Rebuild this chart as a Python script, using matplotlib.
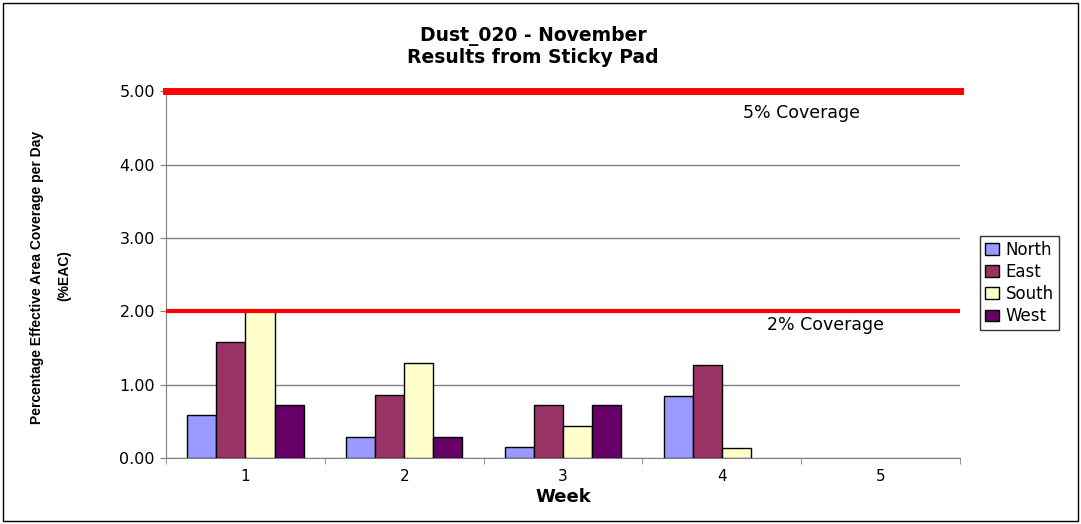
import numpy as np
import matplotlib
matplotlib.use("Agg")
import matplotlib.pyplot as plt
from matplotlib.ticker import FixedLocator, NullFormatter
from matplotlib.patches import Rectangle

weeks = ["1", "2", "3", "4", "5"]
series = ["North", "East", "South", "West"]
north = [0.59, 0.29, 0.15, 0.85, 0.0]
east = [1.58, 0.86, 0.72, 1.27, 0.0]
south = [2.0, 1.29, 0.44, 0.14, 0.0]
west = [0.72, 0.29, 0.72, 0.0, 0.0]
colors = ["#9999FF", "#993366", "#FFFFCC", "#660066"]
limits = [5.0, 2.0]
limit_labels = ["5% Coverage", "2% Coverage"]

plt.rcParams['font.family'] = ['DejaVu Sans']

fig = plt.figure(figsize=(10.81, 5.24), dpi=100)
fig.patches.append(Rectangle((0.003, 0.006), 0.994, 0.988, transform=fig.transFigure,
                             fill=False, edgecolor="black", linewidth=1.0))
ax = fig.add_axes([0.1536, 0.126, 0.7345, 0.7])

x = np.arange(len(weeks))
w = 0.183
values = [north, east, south, west]
for i, vals in enumerate(values):
    ec = ["black" if v > 0 else "none" for v in vals]
    ax.bar(x + (i - 1.5) * w, vals, w, color=colors[i], edgecolor=ec,
           linewidth=1.0, label=series[i], zorder=3)

ax.axhline(limits[0], color="#FF0000", linewidth=5, zorder=4, clip_on=False)
ax.axhline(limits[1], color="#FF0000", linewidth=3, zorder=4)
ax.text(3.5, 4.70, limit_labels[0], fontsize=12.5, ha="center", va="center")
ax.text(3.65, 1.81, limit_labels[1], fontsize=12.5, ha="center", va="center")

ax.set_xlim(-0.5, 4.5)
ax.set_ylim(0, 5)
ax.set_yticks(np.arange(0, 5.01, 1.0))
ax.set_yticklabels(["%.2f" % v for v in np.arange(0, 5.01, 1.0)], fontsize=11.5)
ax.yaxis.grid(True, color="#808080", linewidth=1.0, zorder=0)
ax.set_xticks(x)
ax.set_xticklabels(weeks, fontsize=11)
ax.xaxis.set_minor_locator(FixedLocator(np.arange(-0.5, 4.6, 1.0)))
ax.xaxis.set_minor_formatter(NullFormatter())
ax.tick_params(axis="x", which="major", length=0, pad=8)
ax.tick_params(axis="x", which="minor", length=4, color="#808080", direction="out")
ax.tick_params(axis="y", length=4, color="#808080", direction="out", pad=4)
for s in ["top", "right"]:
    ax.spines[s].set_visible(False)
for s in ["left", "bottom"]:
    ax.spines[s].set_color("#808080")

ax.set_xlabel("Week", fontsize=13, fontweight="bold", labelpad=3)
fig.text(0.034, 0.47, "Percentage Effective Area Coverage per Day", rotation=90,
         ha="center", va="center", fontsize=10, fontweight="bold",
         family=['Liberation Sans Narrow', 'Liberation Sans'])
fig.text(0.059, 0.475, "(%EAC)", rotation=90, ha="center", va="center",
         fontsize=10, fontweight="bold",
         family=['Liberation Sans Narrow', 'Liberation Sans'])

fig.text(0.493, 0.931, "Dust_020 - November", ha="center", va="center",
         fontsize=13.5, fontweight="bold")
fig.text(0.493, 0.891, "Results from Sticky Pad", ha="center", va="center",
         fontsize=13.5, fontweight="bold")

leg = fig.legend(loc="center left", bbox_to_anchor=(0.907, 0.46), fontsize=12,
                 frameon=True, fancybox=False, edgecolor="black",
                 handlelength=0.8, handleheight=0.7, handletextpad=0.4,
                 labelspacing=0.25, borderpad=0.3, borderaxespad=0)
leg.get_frame().set_linewidth(1.0)

fig.savefig("out.png", dpi=100)
